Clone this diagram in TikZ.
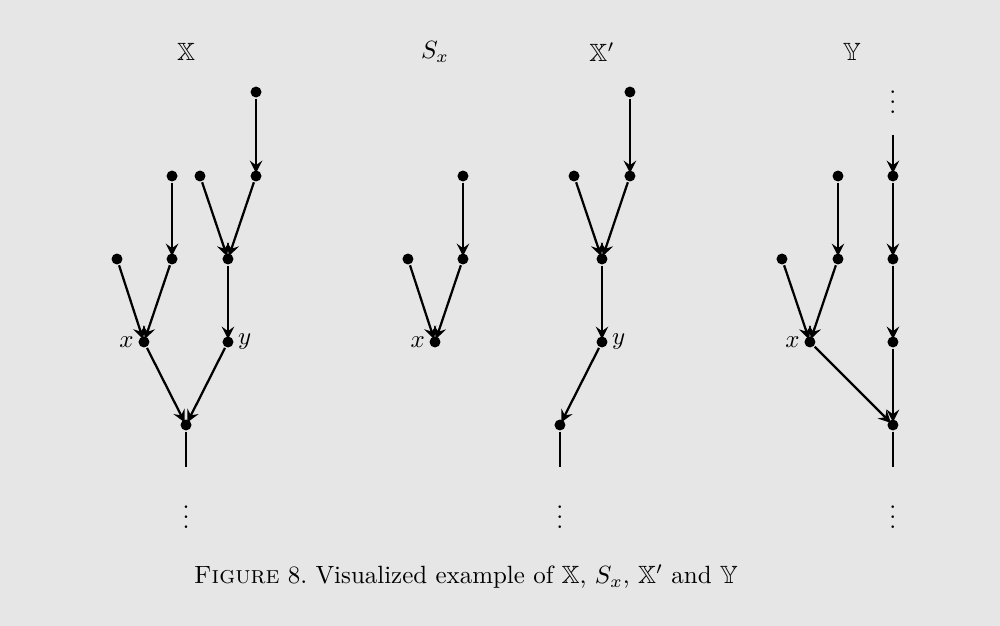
\documentclass[tikz,border=0pt]{standalone}
\usepackage{amsmath,amssymb}
\usetikzlibrary{arrows.meta,positioning}
\definecolor{figgray}{RGB}{230,230,230}

\begin{document}
\begin{tikzpicture}[>={Stealth[length=5pt,width=5pt,inset=1.8pt]},line width=0.9pt,
    dot/.style={circle,fill,inner sep=0pt,minimum size=4.4pt},
    every label/.style={inner sep=1pt}]
    \fill[figgray] (0,0) rectangle (14.085,-8.817);
    \useasboundingbox (0,0) rectangle (14.085,-8.817);
    % titles
    \node (tX) at (2.62,-0.732) {$\mathbb{X}$};
    \node (tS) at (6.127,-0.732) {$S_x$};
    \node (tXp) at (8.479,-0.732) {$\mathbb{X}'$};
    \node (tY) at (12.0,-0.732) {$\mathbb{Y}$};
    % X
    \node[dot] (a1) at (3.606,-1.296) {};
    \node[dot] (a2) at (2.423,-2.479) {};
    \node[dot] (a3) at (2.817,-2.479) {};
    \node[dot] (a4) at (3.606,-2.479) {};
    \node[dot] (a5) at (1.648,-3.648) {};
    \node[dot] (a6) at (2.423,-3.648) {};
    \node[dot] (a7) at (3.211,-3.648) {};
    \node[dot,label=left:$x$] (xX) at (2.028,-4.817) {};
    \node[dot,label=right:$y$] (yX) at (3.211,-4.817) {};
    \node[dot] (a8) at (2.620,-5.986) {};
    \coordinate (a9) at (2.620,-6.577);
    \node[anchor=base] (vX) at (2.620,-7.44) {$\vdots$};
    \draw[->,shorten >=-1.5pt] (a1) -- (a4);
    \draw[->,shorten >=-1.5pt] (a2) -- (a6);
    \draw[->,shorten >=-1.5pt] (a3) -- (a7);
    \draw[->,shorten >=-1.5pt] (a4) -- (a7);
    \draw[->,shorten >=-1.5pt] (a5) -- (xX);
    \draw[->,shorten >=-1.5pt] (a6) -- (xX);
    \draw[->,shorten >=-1.5pt] (a7) -- (yX);
    \draw[->,shorten >=-1.5pt] (xX) -- (a8);
    \draw[->,shorten >=-1.5pt] (yX) -- (a8);
    \draw (a8) -- (a9);
    % S_x
    \node[dot] (b1) at (6.521,-2.479) {};
    \node[dot] (b2) at (5.746,-3.648) {};
    \node[dot] (b3) at (6.521,-3.648) {};
    \node[dot,label=left:$x$] (xS) at (6.127,-4.817) {};
    \draw[->,shorten >=-1.5pt] (b1) -- (b3);
    \draw[->,shorten >=-1.5pt] (b2) -- (xS);
    \draw[->,shorten >=-1.5pt] (b3) -- (xS);
    % X'
    \node[dot] (c1) at (8.873,-1.296) {};
    \node[dot] (c2) at (8.085,-2.479) {};
    \node[dot] (c3) at (8.873,-2.479) {};
    \node[dot] (c4) at (8.479,-3.648) {};
    \node[dot,label=right:$y$] (yXp) at (8.479,-4.817) {};
    \node[dot] (c5) at (7.887,-5.986) {};
    \coordinate (c6) at (7.887,-6.577);
    \node[anchor=base] (vXp) at (7.887,-7.44) {$\vdots$};
    \draw[->,shorten >=-1.5pt] (c1) -- (c3);
    \draw[->,shorten >=-1.5pt] (c2) -- (c4);
    \draw[->,shorten >=-1.5pt] (c3) -- (c4);
    \draw[->,shorten >=-1.5pt] (c4) -- (yXp);
    \draw[->,shorten >=-1.5pt] (yXp) -- (c5);
    \draw (c5) -- (c6);
    % Y
    \node[anchor=base] (vYtop) at (12.577,-1.592) {$\vdots$};
    \coordinate (d0) at (12.577,-1.901);
    \node[dot] (d1) at (11.803,-2.479) {};
    \node[dot] (d2) at (12.577,-2.479) {};
    \node[dot] (d3) at (11.014,-3.648) {};
    \node[dot] (d4) at (11.803,-3.648) {};
    \node[dot] (d5) at (12.577,-3.648) {};
    \node[dot,label=left:$x$] (xY) at (11.408,-4.817) {};
    \node[dot] (d6) at (12.577,-4.817) {};
    \node[dot] (d7) at (12.577,-5.986) {};
    \coordinate (d8) at (12.577,-6.577);
    \node[anchor=base] (vY) at (12.577,-7.44) {$\vdots$};
    \draw[->,shorten >=-1.5pt] (d0) -- (d2);
    \draw[->,shorten >=-1.5pt] (d2) -- (d5);
    \draw[->,shorten >=-1.5pt] (d5) -- (d6);
    \draw[->,shorten >=-1.5pt] (d6) -- (d7);
    \draw[->,shorten >=-1.5pt] (d1) -- (d4);
    \draw[->,shorten >=-1.5pt] (d3) -- (xY);
    \draw[->,shorten >=-1.5pt] (d4) -- (xY);
    \draw[->,shorten >=-1.5pt] (xY) -- (d7);
    \draw (d7) -- (d8);
    % caption
    \node (cap) at (6.563,-8.127) {\textsc{Figure} 8.\ Visualized example of $\mathbb{X}$,\ $S_x$,\ $\mathbb{X}'$ and $\mathbb{Y}$};
\end{tikzpicture}
\end{document}
